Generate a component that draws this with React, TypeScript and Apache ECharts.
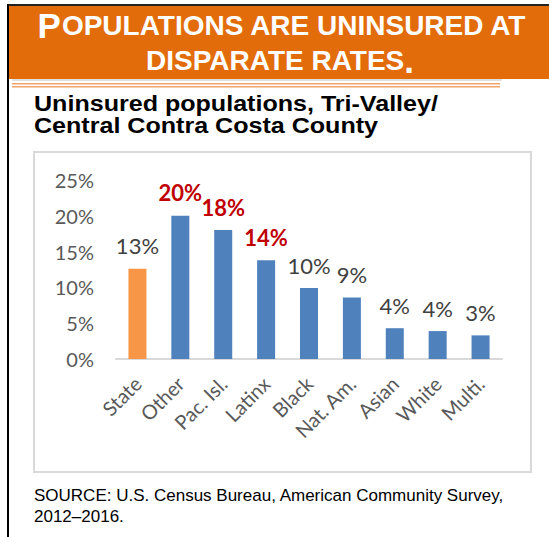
import React, { useEffect, useRef } from "react";
import * as echarts from "echarts";

const categories = ["State", "Other", "Pac. Isl.", "Latinx", "Black", "Nat. Am.", "Asian", "White", "Multi."];
const values = [12.6, 20.0, 18.0, 13.8, 9.9, 8.6, 4.3, 3.9, 3.3];
const labels = ["13%", "20%", "18%", "14%", "10%", "9%", "4%", "4%", "3%"];
const highlighted = [false, true, true, true, false, false, false, false, false];
const barColors = ["#F79646", "#4F81BD", "#4F81BD", "#4F81BD", "#4F81BD", "#4F81BD", "#4F81BD", "#4F81BD", "#4F81BD"];
const yTicks = [0, 5, 10, 15, 20, 25];

const titleLine1Cap = "P";
const titleLine1Rest = "OPULATIONS ARE UNINSURED AT";
const titleLine2 = "DISPARATE RATES";
const subtitleLines = ["Uninsured populations, Tri-Valley/", "Central Contra Costa County"];
const footerLines = ["SOURCE: U.S. Census Bureau, American Community Survey,", "2012\u20132016."];

export default function App() {
  const ref = useRef<HTMLDivElement>(null);
  useEffect(() => {
    document.body.style.margin = "0";
    const chart = echarts.init(ref.current!, null, { renderer: "svg" });
    const axisFont = "Lato, 'Open Sans', sans-serif";
    const arial = "'Liberation Sans', Arial, sans-serif";
    chart.setOption({
      animation: false,
      backgroundColor: "#ffffff",
      grid: { left: 116, right: 47, top: 180, bottom: 178, containLabel: false },
      xAxis: {
        type: "category",
        data: categories,
        axisLine: { lineStyle: { color: "#D9D9D9", width: 2 } },
        axisTick: { show: false },
        axisLabel: {
          rotate: 45,
          interval: 0,
          margin: 21,
          color: "#595959",
          fontSize: 20,
          fontFamily: axisFont,
        },
      },
      yAxis: {
        type: "value",
        min: yTicks[0],
        max: yTicks[yTicks.length - 1],
        interval: 5,
        splitLine: { show: false },
        axisLine: { show: false },
        axisTick: { show: false },
        axisLabel: {
          formatter: "{value}%",
          color: "#595959",
          fontSize: 20,
          margin: 22,
          fontFamily: axisFont,
        },
      },
      series: [
        {
          type: "bar",
          barWidth: "42%",
          data: values.map((v, i) => ({
            value: v,
            itemStyle: { color: barColors[i] },
            label: {
              show: true,
              position: "top",
              distance: 12,
              formatter: labels[i],
              fontFamily: axisFont,
              fontSize: 22,
              fontWeight: highlighted[i] ? "bold" : "normal",
              color: highlighted[i] ? "#C00000" : "#404040",
            },
          })),
        },
      ],
      graphic: [
        { type: "rect", z: -1, shape: { x: 34, y: 152, width: 497, height: 320 }, style: { fill: "none", stroke: "#D9D9D9", lineWidth: 2 } },
        { type: "rect", shape: { x: 7, y: 4, width: 542, height: 2 }, style: { fill: "#222222" } },
        { type: "rect", shape: { x: 7, y: 4, width: 2, height: 533 }, style: { fill: "#000000" } },
        { type: "rect", shape: { x: 9, y: 6, width: 540, height: 73 }, style: { fill: "#E36C0A" } },
        { type: "rect", shape: { x: 12, y: 79, width: 490, height: 2 }, style: { fill: "#E0E0E0" } },
        { type: "rect", shape: { x: 12, y: 83, width: 488, height: 1.5 }, style: { fill: "#F0A36A" } },
        { type: "rect", shape: { x: 12, y: 86, width: 488, height: 1.5 }, style: { fill: "#F0A36A" } },
        {
          type: "text",
          x: 282,
          y: 43,
          style: {
            text: "{big|" + titleLine1Cap + "}{sm|" + titleLine1Rest + "}",
            align: "center",
            verticalAlign: "bottom",
            rich: {
              big: { fontSize: 35, fontWeight: "bold", fill: "#ffffff", fontFamily: arial },
              sm: { fontSize: 28, fontWeight: "bold", fill: "#ffffff", fontFamily: arial },
            },
          },
        },
        {
          type: "text",
          x: 280,
          y: 78,
          style: {
            text: "{sm|" + titleLine2 + "}{big|.}",
            align: "center",
            verticalAlign: "bottom",
            rich: {
              big: { fontSize: 35, fontWeight: "bold", fill: "#ffffff", fontFamily: arial },
              sm: { fontSize: 28, fontWeight: "bold", fill: "#ffffff", fontFamily: arial },
            },
          },
        },
        ...subtitleLines.map((t, i) => ({
          type: "text",
          x: 34,
          y: 103.3 + i * 22.5,
          scaleX: 1.14,
          style: {
            text: t,
            fontSize: 22,
            fontWeight: "bold",
            fill: "#000000",
            fontFamily: arial,
            verticalAlign: "middle",
          },
        })),
        ...footerLines.map((t, i) => ({
          type: "text",
          x: 34,
          y: 495 + i * 21,
          style: {
            text: t,
            fontSize: 17,
            fill: "#000000",
            fontFamily: arial,
            verticalAlign: "middle",
          },
        })),
      ],
    });
    return () => chart.dispose();
  }, []);
  return <div ref={ref} style={{ position: "absolute", left: 0, top: 0, width: 549, height: 537 }} />;
}
